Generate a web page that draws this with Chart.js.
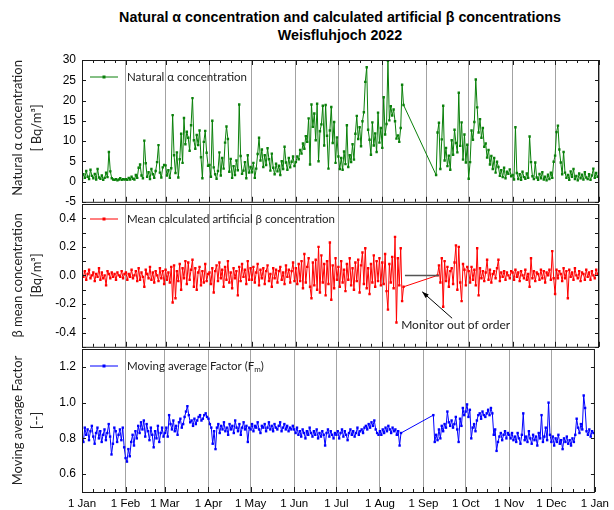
<!DOCTYPE html>
<html>
<head>
<meta charset="utf-8">
<script src="https://cdn.jsdelivr.net/npm/chart.js@4.4.0/dist/chart.umd.min.js"></script>
<style>
  body { margin: 0; background: #fff; width: 614px; height: 510px; position: relative; overflow: hidden; }
  #title { position: absolute; left: 0; top: 8px; width: 680px; text-align: center;
           font: bold 14.3px "Liberation Sans", Arial, sans-serif; line-height: 18px; color: #000; }
  canvas { position: absolute; left: 0; }
</style>
</head>
<body>
<div id="title">Natural α concentration and calculated artificial β concentrations<br>Weisfluhjoch 2022</div>
<canvas id="alphaChart" width="614" height="215" style="top:0px"></canvas>
<canvas id="betaChart" width="614" height="170" style="top:190px"></canvas>
<canvas id="factorChart" width="614" height="175" style="top:335px"></canvas>
<script>
// x axis: day of year (1 Jan = 0), month starts are the ticks
const monthStarts = [0, 31, 59, 90, 120, 151, 181, 212, 243, 273, 304, 334, 365];
const monthLabels = ['1 Jan', '1 Feb', '1 Mar', '1 Apr', '1 May', '1 Jun', '1 Jul', '1 Aug', '1 Sep', '1 Oct', '1 Nov', '1 Dec', '1 Jan'];

// y ticks per panel
const alphaTicks = [-5, 0, 5, 10, 15, 20, 25, 30];
const betaTicks = [-0.5, -0.4, -0.3, -0.2, -0.1, 0, 0.1, 0.2, 0.3, 0.4, 0.5];
const betaTickLabels = ['', '-0.4', '', '-0.2', '', '0.0', '', '0.2', '', '0.4', ''];
const factorTicks = [0.6, 0.8, 1.0, 1.2];

// daily values, one array per month (null = no measurement)
// Natural alpha concentration [Bq/m3]
const alphaJan = [0.5, 1.8, 0.9, 2.6, 1.2, 0.6, 2.9, 1.4, 0.8, 1.9, 0.5, 3.1, 1.0, 0.7, 1.5, 0.4, 0.9, 2.2, 1.1, 7.3, 2.5, 0.8, 0.5, 0.4, 0.6, 0.3, 0.5, 0.8, 0.4, 0.6, 0.5];
const alphaFeb = [0.6, 0.4, 0.9, 0.5, 1.2, 0.7, 0.5, 1.6, 0.9, 3.4, 4.2, 1.5, 0.8, 10.1, 4.5, 1.2, 2.3, 0.6, 3.1, 1.8, 0.9, 2.6, 4.8, 9.0, 2.2, 1.0, 3.5, 4.1];
const alphaMar = [4.0, 1.5, 2.8, 0.9, 3.3, 16.4, 6.5, 2.1, 7.2, 1.0, 5.5, 11.8, 4.6, 15.7, 9.2, 12.3, 10.8, 7.6, 13.9, 20.6, 10.2, 8.1, 11.5, 9.0, 12.6, 6.0, 0.8, 9.8, 12.5, 7.1, 3.9];
const alphaApr = [4.1, 1.2, 15.0, 3.5, 1.8, 0.7, 2.6, 7.2, 1.5, 5.8, 3.2, 9.6, 13.6, 10.5, 2.4, 5.6, 0.9, 3.8, 1.6, 5.2, 2.8, 19.0, 6.3, 1.9, 2.7, 4.8, 0.8, 6.5, 2.2, 3.6];
const alphaMay = [2.3, 4.6, 0.9, 3.2, 6.8, 10.8, 5.2, 7.9, 3.6, 6.5, 4.1, 8.2, 5.5, 2.7, 6.9, 3.4, 1.8, 4.4, 2.5, 3.9, 1.6, 5.0, 3.1, 8.6, 4.7, 2.9, 5.8, 3.5, 4.9, 6.2, 3.8];
const alphaJun = [4.8, 6.2, 5.5, 7.8, 6.9, 9.4, 8.1, 11.2, 9.8, 15.6, 4.2, 19.0, 13.5, 16.8, 10.2, 19.2, 5.0, 12.4, 14.1, 18.7, 8.9, 18.9, 11.3, 3.2, 12.6, 18.4, 9.5, 14.7, 4.6, 10.9];
const alphaJul = [6.2, 3.1, 5.8, 2.9, 7.4, 4.3, 13.9, 3.6, 6.5, 4.8, 9.2, 5.4, 11.8, 16.2, 10.5, 13.4, 8.7, 14.9, 17.1, 24.6, 28.2, 12.8, 10.3, 6.6, 14.6, 8.9, 11.9, 7.3, 17.0, 9.6, 13.2];
const alphaAug = [8.3, 20.8, 11.6, 14.2, 29.8, 15.1, 18.6, 16.3, 17.8, 14.9, 10.6, 11.4, 9.8, 13.2, 23.9, 18.9];
const alphaSep = [null, null, null, null, null, null, null, 1.6, 12.1, 14.5, 3.1, 10.4, 18.7, 5.2, 8.3, 3.8, 6.4, 2.9, 10.2, 6.6, 12.8, 9.5, 7.2, 21.9, 8.8, 14.6, 5.4, 11.6, 4.7, 9.1];
const alphaOct = [0.7, 4.8, 12.6, 10.3, 14.7, 25.2, 18.3, 12.1, 15.4, 10.8, 13.2, 8.6, 9.4, 5.9, 7.8, 4.2, 6.3, 3.1, 5.8, 2.2, 4.9, 3.6, 1.4, 2.8, 1.1, 3.4, 0.8, 2.4, 1.9, 3.0, 1.3];
const alphaNov = [1.6, 0.5, 13.4, 2.1, 0.6, 1.8, 0.4, 2.4, 1.1, 0.7, 2.0, 0.9, 11.1, 4.8, 1.3, 0.6, 4.7, 1.0, 0.4, 1.9, 0.8, 2.3, 0.5, 1.2, 0.3, 1.7, 0.6, 2.2, 0.9, 4.9];
const alphaDec = [6.4, 12.2, 13.8, 7.9, 4.7, 1.8, 7.3, 2.2, 0.9, 1.6, 0.4, 2.5, 1.2, 3.1, 0.6, 1.4, 0.3, 2.0, 0.8, 1.7, 0.5, 2.3, 1.0, 0.6, 1.8, 0.4, 1.5, 3.2, 0.9, 2.1, 1.2];

// Mean calculated artificial beta concentration [Bq/m3]
const betaJan = [0.02, -0.01, 0.03, -0.03, 0.01, 0.04, -0.02, 0.00, 0.02, -0.04, 0.01, -0.01, 0.05, -0.03, 0.02, -0.02, 0.00, -0.07, 0.03, 0.01, -0.02, 0.02, -0.01, 0.01, -0.03, 0.02, 0.00, -0.01, 0.03, -0.02, 0.01];
const betaFeb = [0.02, -0.03, 0.01, -0.01, 0.04, -0.02, 0.00, 0.03, -0.04, 0.05, -0.03, 0.02, -0.01, -0.08, 0.04, 0.01, -0.02, 0.06, -0.03, 0.02, -0.05, 0.03, 0.00, -0.04, 0.05, -0.02, 0.03, -0.06];
const betaMar = [0.04, -0.03, 0.02, -0.05, 0.06, -0.19, 0.07, -0.16, 0.03, -0.04, 0.08, -0.10, 0.05, -0.02, 0.10, -0.06, 0.09, -0.03, 0.04, 0.11, -0.08, 0.05, -0.10, 0.02, 0.06, -0.07, 0.03, -0.05, 0.08, -0.04, 0.01];
const betaApr = [0.02, -0.06, 0.05, -0.12, 0.03, 0.07, -0.04, 0.09, -0.02, 0.04, -0.08, 0.06, -0.03, 0.10, -0.05, 0.02, -0.09, 0.05, -0.02, 0.03, -0.14, 0.06, -0.04, 0.08, -0.01, 0.04, -0.06, 0.10, -0.03, 0.05];
const betaMay = [-0.03, 0.06, -0.05, 0.02, 0.08, -0.07, 0.04, -0.02, 0.05, -0.06, 0.03, 0.07, -0.04, 0.01, -0.08, 0.05, -0.02, 0.04, -0.05, 0.03, 0.06, -0.03, 0.02, -0.06, 0.07, -0.01, 0.04, -0.05, 0.03, 0.09, -0.04];
const betaJun = [0.05, -0.06, 0.08, -0.04, 0.10, -0.09, 0.15, -0.05, 0.06, 0.12, -0.08, -0.16, 0.09, -0.07, 0.11, -0.10, 0.20, -0.12, 0.14, -0.05, 0.08, -0.14, 0.10, -0.06, 0.23, -0.17, 0.07, -0.09, 0.12, -0.03];
const betaJul = [0.06, -0.08, 0.10, -0.05, 0.04, -0.11, 0.08, -0.03, 0.12, -0.07, 0.05, -0.10, 0.09, -0.04, 0.11, -0.12, 0.07, 0.16, -0.06, 0.19, -0.09, 0.05, -0.13, 0.08, -0.05, 0.14, -0.08, 0.10, -0.04, 0.12, -0.07];
const betaAug = [0.09, -0.06, 0.15, -0.11, -0.24, 0.08, -0.05, 0.13, -0.09, 0.27, -0.33, 0.12, -0.07, 0.19, -0.18, -0.08];
const betaSep = [null, null, null, null, null, null, null, null, 0.00, 0.07, -0.05, 0.12, -0.22, 0.10, -0.04, 0.06, -0.08, 0.03, 0.05, -0.06, 0.09, 0.21, -0.10, 0.20, -0.05, -0.18, 0.08, 0.04, -0.07, 0.06];
const betaOct = [0.03, -0.05, 0.06, -0.03, 0.04, -0.07, 0.19, -0.14, 0.05, -0.02, 0.03, -0.04, 0.02, 0.11, -0.03, 0.04, -0.05, 0.01, 0.03, -0.02, 0.05, 0.11, -0.04, 0.02, -0.01, 0.03, -0.03, 0.02, 0.00, -0.02, 0.03];
const betaNov = [0.02, -0.03, 0.04, -0.01, 0.02, -0.04, 0.03, 0.00, -0.02, 0.04, -0.03, 0.01, -0.08, 0.12, -0.02, 0.03, -0.04, 0.02, 0.01, -0.03, 0.04, -0.02, 0.03, -0.05, 0.02, 0.00, 0.04, -0.03, 0.17, -0.02];
const betaDec = [-0.13, 0.04, -0.02, 0.03, 0.01, -0.04, 0.05, -0.02, 0.03, -0.16, 0.04, -0.01, 0.02, -0.03, 0.05, 0.00, -0.02, 0.03, -0.04, 0.02, 0.01, -0.03, 0.04, -0.01, 0.02, -0.03, 0.03, 0.00, -0.02, 0.04, 0.01];

// Moving average factor Fm [-]
const factorJan = [0.80, 0.78, 0.86, 0.82, 0.85, 0.79, 0.84, 0.87, 0.81, 0.77, 0.83, 0.86, 0.80, 0.84, 0.78, 0.82, 0.85, 0.79, 0.83, 0.88, 0.81, 0.71, 0.77, 0.86, 0.84, 0.78, 0.82, 0.85, 0.79, 0.86, 0.75];
const factorFeb = [0.69, 0.67, 0.74, 0.70, 0.78, 0.82, 0.76, 0.84, 0.80, 0.87, 0.83, 0.89, 0.85, 0.90, 0.81, 0.88, 0.84, 0.79, 0.86, 0.82, 0.75, 0.84, 0.80, 0.87, 0.78, 0.83, 0.86, 0.81];
const factorMar = [0.83, 0.86, 0.81, 0.93, 0.88, 0.85, 0.90, 0.84, 0.87, 0.82, 0.89, 0.91, 0.86, 0.88, 0.92, 0.95, 0.98, 0.93, 0.89, 0.90, 0.87, 0.91, 0.88, 0.90, 0.92, 0.93, 0.90, 0.91, 0.93, 0.94, 0.92];
const factorApr = [0.91, 0.88, 0.86, 0.77, 0.84, 0.74, 0.86, 0.88, 0.83, 0.87, 0.85, 0.89, 0.84, 0.86, 0.82, 0.88, 0.85, 0.87, 0.83, 0.90, 0.86, 0.84, 0.88, 0.82, 0.86, 0.89, 0.85, 0.87, 0.78, 0.86];
const factorMay = [0.85, 0.88, 0.84, 0.87, 0.86, 0.89, 0.85, 0.83, 0.87, 0.86, 0.88, 0.84, 0.86, 0.89, 0.85, 0.87, 0.84, 0.88, 0.86, 0.85, 0.87, 0.89, 0.84, 0.86, 0.88, 0.85, 0.87, 0.84, 0.86, 0.85, 0.87];
const factorJun = [0.85, 0.83, 0.86, 0.82, 0.84, 0.81, 0.85, 0.83, 0.80, 0.84, 0.82, 0.86, 0.83, 0.81, 0.84, 0.82, 0.85, 0.80, 0.83, 0.81, 0.84, 0.82, 0.76, 0.83, 0.85, 0.81, 0.84, 0.82, 0.80, 0.83];
const factorJul = [0.82, 0.84, 0.80, 0.83, 0.85, 0.81, 0.84, 0.82, 0.79, 0.83, 0.85, 0.82, 0.84, 0.81, 0.83, 0.86, 0.82, 0.84, 0.85, 0.83, 0.86, 0.87, 0.85, 0.88, 0.86, 0.89, 0.87, 0.90, 0.85, 0.83, 0.82];
const factorAug = [0.84, 0.82, 0.85, 0.83, 0.86, 0.84, 0.87, 0.85, 0.83, 0.86, 0.84, 0.85, 0.82, 0.84, 0.76, 0.83];
const factorSep = [null, null, null, null, null, null, null, 0.93, 0.78, 0.82, 0.79, 0.85, 0.80, 0.87, 0.84, 0.88, 0.86, 0.95, 0.89, 0.87, 0.90, 0.86, 0.88, 0.92, 0.85, 0.78, 0.91, 0.87, 0.97, 0.93];
const factorOct = [0.95, 0.99, 0.92, 0.96, 0.80, 0.86, 0.88, 0.84, 0.90, 0.93, 0.94, 0.91, 0.95, 0.93, 0.92, 0.94, 0.96, 0.93, 0.97, 0.94, 0.82, 0.85, 0.73, 0.78, 0.81, 0.83, 0.79, 0.82, 0.84, 0.80, 0.83];
const factorNov = [0.82, 0.80, 0.83, 0.79, 0.81, 0.78, 0.83, 0.80, 0.77, 0.82, 0.94, 0.79, 0.81, 0.78, 0.84, 0.80, 0.77, 0.82, 0.79, 0.81, 0.76, 0.83, 0.80, 0.93, 0.78, 0.81, 0.86, 0.79, 1.00, 0.82];
const factorDec = [0.78, 0.81, 0.76, 0.80, 0.78, 0.82, 0.77, 0.79, 0.74, 0.80, 0.78, 0.81, 0.77, 0.79, 0.76, 0.80, 0.78, 0.82, 0.91, 0.86, 0.83, 0.88, 0.85, 1.04, 0.97, 0.84, 0.82, 0.85, 0.81, 0.84, 0.83];

// monitor out of order (day of year), drawn as flat line at 0
const outageDays = [228, 252];

const alphaMonths = [alphaJan, alphaFeb, alphaMar, alphaApr, alphaMay, alphaJun, alphaJul, alphaAug, alphaSep, alphaOct, alphaNov, alphaDec];
const betaMonths = [betaJan, betaFeb, betaMar, betaApr, betaMay, betaJun, betaJul, betaAug, betaSep, betaOct, betaNov, betaDec];
const factorMonths = [factorJan, factorFeb, factorMar, factorApr, factorMay, factorJun, factorJul, factorAug, factorSep, factorOct, factorNov, factorDec];

// turn month arrays into {x: day, y: value}
function toPoints(months) {
  const pts = [];
  months.forEach((vals, m) => {
    vals.forEach((v, i) => {
      if (v !== null) pts.push({ x: monthStarts[m] + i, y: v });
    });
  });
  return pts;
}

const labelFont = '"Liberation Sans", Arial, sans-serif';
const textFont = 'Lato, "Open Sans", sans-serif';

// box, inward ticks, legend, side titles, annotation
const panelDecor = {
  id: 'panelDecor',
  afterDraw(chart, args, opts) {
    const ctx = chart.ctx;
    const a = chart.chartArea;
    const xs = chart.scales.x, ys = chart.scales.y;
    ctx.save();
    ctx.strokeStyle = '#1a1a1a';
    ctx.lineWidth = 1;
    ctx.strokeRect(a.left + 0.5, a.top + 0.5, a.right - a.left - 1, a.bottom - a.top);
    ctx.beginPath();
    ys.ticks.forEach(t => {
      const py = Math.round(ys.getPixelForValue(t.value)) + 0.5;
      ctx.moveTo(a.left, py); ctx.lineTo(a.left + 4, py);
      ctx.moveTo(a.right, py); ctx.lineTo(a.right - 4, py);
    });
    monthStarts.forEach((d, i) => {
      const px = Math.round(xs.getPixelForValue(d)) + 0.5;
      ctx.moveTo(px, a.bottom); ctx.lineTo(px, a.bottom - 5);
      if (opts.topTicks) { ctx.moveTo(px, a.top); ctx.lineTo(px, a.top + 5); }
      if (i < 12) {
        for (let q = 1; q < 4; q++) {
          const mx = Math.round(xs.getPixelForValue(d + (monthStarts[i + 1] - d) * q / 4)) + 0.5;
          ctx.moveTo(mx, a.bottom); ctx.lineTo(mx, a.bottom - 3);
          if (opts.topTicks) { ctx.moveTo(mx, a.top); ctx.lineTo(mx, a.top + 3); }
        }
      }
    });
    ctx.stroke();

    // legend
    const ly = a.top + opts.legendDy;
    ctx.strokeStyle = opts.color;
    ctx.fillStyle = opts.color;
    ctx.beginPath(); ctx.moveTo(90, ly); ctx.lineTo(118, ly); ctx.stroke();
    ctx.fillRect(102.5, ly - 1.5, 3, 3);
    ctx.fillStyle = '#222';
    ctx.font = '11.5px ' + textFont;
    ctx.textBaseline = 'middle';
    ctx.textAlign = 'left';
    ctx.fillText(opts.legend, 127, ly);
    if (opts.legendSub) {
      let x = 127 + ctx.measureText(opts.legend).width;
      ctx.font = '8px ' + textFont;
      ctx.fillText(opts.legendSub, x, ly + 3);
      x += ctx.measureText(opts.legendSub).width;
      ctx.font = '11.5px ' + textFont;
      ctx.fillText(')', x, ly);
    }

    // side titles
    ctx.fillStyle = '#222';
    ctx.font = '13px ' + textFont;
    ctx.textAlign = 'center';
    const cy = (a.top + a.bottom) / 2 + opts.titleDy;
    opts.sideTitle.forEach((line, k) => {
      ctx.save();
      ctx.translate(18 + k * 19, cy);
      ctx.rotate(-Math.PI / 2);
      ctx.fillText(line, 0, 0);
      ctx.restore();
    });

    // annotation arrow
    if (opts.note) {
      const n = opts.note;
      const tx = xs.getPixelForValue(n.tip[0]), ty = ys.getPixelForValue(n.tip[1]);
      const sx = xs.getPixelForValue(n.tail[0]), sy = ys.getPixelForValue(n.tail[1]);
      ctx.strokeStyle = '#000'; ctx.fillStyle = '#000';
      ctx.beginPath(); ctx.moveTo(sx, sy); ctx.lineTo(tx, ty); ctx.stroke();
      const ang = Math.atan2(ty - sy, tx - sx);
      ctx.beginPath();
      ctx.moveTo(tx, ty);
      ctx.lineTo(tx - 7 * Math.cos(ang - 0.35), ty - 7 * Math.sin(ang - 0.35));
      ctx.lineTo(tx - 7 * Math.cos(ang + 0.35), ty - 7 * Math.sin(ang + 0.35));
      ctx.closePath(); ctx.fill();
      ctx.fillStyle = '#222';
      ctx.font = '12px ' + textFont;
      ctx.textAlign = 'center';
      ctx.fillText(n.text, xs.getPixelForValue(n.label[0]), ys.getPixelForValue(n.label[1]));
    }
    ctx.restore();
  }
};

function panelOptions(cfg) {
  return {
    responsive: false,
    animation: false,
    devicePixelRatio: 1,
    layout: { padding: { top: cfg.padTop, bottom: cfg.padBottom, left: 0, right: 15 } },
    plugins: { legend: { display: false }, tooltip: { enabled: false }, panelDecor: cfg.decor },
    scales: {
      x: {
        type: 'linear', min: 0, max: 365,
        afterBuildTicks: s => { s.ticks = monthStarts.map(v => ({ value: v })); },
        afterFit: s => { s.height = cfg.xHeight; },
        grid: { color: '#a3a3a3', lineWidth: 1, drawTicks: false },
        border: { display: false },
        ticks: {
          display: cfg.showX, autoSkip: false, maxRotation: 0, padding: 5, color: '#000',
          font: { family: labelFont, size: 11.5 },
          callback: v => monthLabels[monthStarts.indexOf(v)]
        }
      },
      y: {
        min: cfg.min, max: cfg.max,
        afterBuildTicks: s => { s.ticks = cfg.ticks.map(v => ({ value: v })); },
        afterFit: s => { s.width = 82; },
        grid: { display: false, drawTicks: false },
        border: { display: false },
        ticks: { autoSkip: false, padding: 6, color: '#000', font: { family: labelFont, size: 12 }, callback: cfg.fmt }
      }
    }
  };
}

function series(points, color) {
  return {
    data: points, borderColor: color, backgroundColor: color, borderWidth: 1,
    pointStyle: 'rect', pointRadius: 1.7, pointBorderWidth: 0, tension: 0, order: 1
  };
}

new Chart(document.getElementById('alphaChart'), {
  type: 'line',
  data: { datasets: [series(toPoints(alphaMonths), '#0a800a')] },
  options: panelOptions({
    padTop: 60, padBottom: 11, xHeight: 0, showX: false, min: -5, max: 30, ticks: alphaTicks,
    fmt: v => String(v),
    decor: { topTicks: true, color: '#0a800a', legendDy: 17, legend: 'Natural α concentration',
             sideTitle: ['Natural α concentration', '[ Bq/m³]'], titleDy: -3 }
  }),
  plugins: [panelDecor]
});

new Chart(document.getElementById('betaChart'), {
  type: 'line',
  data: {
    datasets: [
      series(toPoints(betaMonths), '#ff0000'),
      { data: outageDays.map(d => ({ x: d, y: 0 })), borderColor: '#555', borderWidth: 1.5, pointRadius: 0, order: 0 }
    ]
  },
  options: panelOptions({
    padTop: 14, padBottom: 11, xHeight: 0, showX: false, min: -0.5, max: 0.5, ticks: betaTicks,
    fmt: v => betaTickLabels[betaTicks.indexOf(v)],
    decor: { topTicks: false, color: '#ff0000', legendDy: 15, legend: 'Mean calculated artificial β concentration',
             sideTitle: ['β mean concentration', '[Bq/m³]'], titleDy: 0,
             note: { text: 'Monitor out of order', tip: [240.2, -0.115], tail: [261.3, -0.30], label: [263.8, -0.347] } }
  }),
  plugins: [panelDecor]
});

new Chart(document.getElementById('factorChart'), {
  type: 'line',
  data: { datasets: [series(toPoints(factorMonths), '#0000ff')] },
  options: panelOptions({
    padTop: 14, padBottom: 0, xHeight: 18, showX: true, min: 0.5, max: 1.3, ticks: factorTicks,
    fmt: v => v.toFixed(1),
    decor: { topTicks: false, color: '#0000ff', legendDy: 17, legend: 'Moving average Factor (F', legendSub: 'm',
             sideTitle: ['Moving average Factor', '[--]'], titleDy: 0 }
  }),
  plugins: [panelDecor]
});
</script>
</body>
</html>
